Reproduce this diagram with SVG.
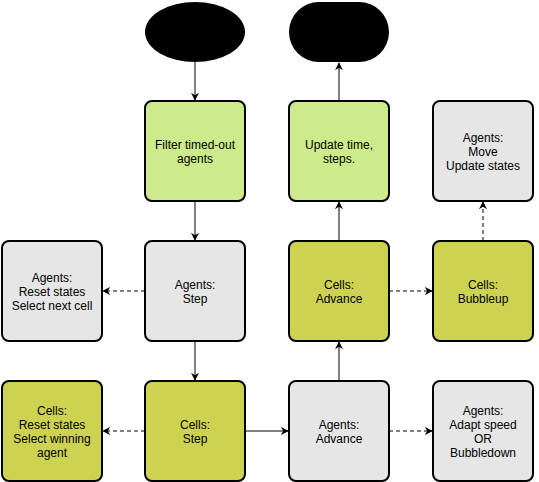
<svg xmlns="http://www.w3.org/2000/svg" width="539" height="482" viewBox="0 0 539 482">
<defs>
<style>
.box{stroke:#000;stroke-width:2}
.g{fill:#e6e6e6}.lg{fill:#cdeb8b}.ol{fill:#cdd350}
text{font-family:"Liberation Sans",Arial,sans-serif;font-size:12px;fill:#000;text-anchor:middle}
.c{stroke:#000;stroke-width:1;fill:none}
.d{stroke-dasharray:4 3}
</style>
<marker id="ah" viewBox="0 0 10 10" refX="9" refY="5" markerWidth="8" markerHeight="8" markerUnits="userSpaceOnUse" orient="auto">
<path d="M0,0 L10,5 L0,10 L3,5 Z" fill="#000"/>
</marker>
</defs>
<rect width="539" height="482" fill="#fff"/>
<g id="connectors">
<path class="c" d="M195,62 V100" marker-end="url(#ah)"/>
<path class="c" d="M339,101 V63" marker-end="url(#ah)"/>
<path class="c" d="M195,201 V240" marker-end="url(#ah)"/>
<path class="c" d="M195,341 V380" marker-end="url(#ah)"/>
<path class="c" d="M246,431 H288" marker-end="url(#ah)"/>
<path class="c" d="M339,381 V342" marker-end="url(#ah)"/>
<path class="c" d="M339,241 V202" marker-end="url(#ah)"/>
<path class="c d" d="M389,291 H432" marker-end="url(#ah)"/>
<path class="c d" d="M483,241 V202" marker-end="url(#ah)"/>
<path class="c d" d="M145,291 H103" marker-end="url(#ah)"/>
<path class="c d" d="M145,431 H103" marker-end="url(#ah)"/>
<path class="c d" d="M389,431 H432" marker-end="url(#ah)"/>
</g>
<g id="start"><ellipse cx="195" cy="32" rx="50" ry="30" fill="#000"/></g>
<g id="end"><rect x="289" y="2" width="100" height="60" rx="30" fill="#000"/></g>
<g id="filter"><rect class="box lg" x="145" y="101" width="100" height="100" rx="7"/><text x="195" y="149">Filter timed-out</text><text x="195" y="163">agents</text></g>
<g id="update"><rect class="box lg" x="289" y="101" width="100" height="100" rx="7"/><text x="339" y="149">Update time,</text><text x="339" y="163">steps.</text></g>
<g id="agentsMove"><rect class="box g" x="433" y="101" width="100" height="100" rx="7"/><text x="483" y="142">Agents:</text><text x="483" y="156">Move</text><text x="483" y="170">Update states</text></g>
<g id="agentsReset"><rect class="box g" x="2" y="241" width="100" height="100" rx="7"/><text x="52" y="282">Agents:</text><text x="52" y="296">Reset states</text><text x="52" y="310">Select next cell</text></g>
<g id="agentsStep"><rect class="box g" x="145" y="241" width="100" height="100" rx="7"/><text x="195" y="289">Agents:</text><text x="195" y="303">Step</text></g>
<g id="cellsAdvance"><rect class="box ol" x="289" y="241" width="100" height="100" rx="7"/><text x="339" y="289">Cells:</text><text x="339" y="303">Advance</text></g>
<g id="cellsBubbleup"><rect class="box ol" x="433" y="241" width="100" height="100" rx="7"/><text x="483" y="289">Cells:</text><text x="483" y="303">Bubbleup</text></g>
<g id="cellsReset"><rect class="box ol" x="2" y="381" width="100" height="100" rx="7"/><text x="52" y="415">Cells:</text><text x="52" y="429">Reset states</text><text x="52" y="443">Select winning</text><text x="52" y="457">agent</text></g>
<g id="cellsStep"><rect class="box ol" x="145" y="381" width="100" height="100" rx="7"/><text x="195" y="429">Cells:</text><text x="195" y="443">Step</text></g>
<g id="agentsAdvance"><rect class="box g" x="289" y="381" width="100" height="100" rx="7"/><text x="339" y="429">Agents:</text><text x="339" y="443">Advance</text></g>
<g id="agentsAdapt"><rect class="box g" x="433" y="381" width="100" height="100" rx="7"/><text x="483" y="415">Agents:</text><text x="483" y="429">Adapt speed</text><text x="483" y="443">OR</text><text x="483" y="457">Bubbledown</text></g>
</svg>
